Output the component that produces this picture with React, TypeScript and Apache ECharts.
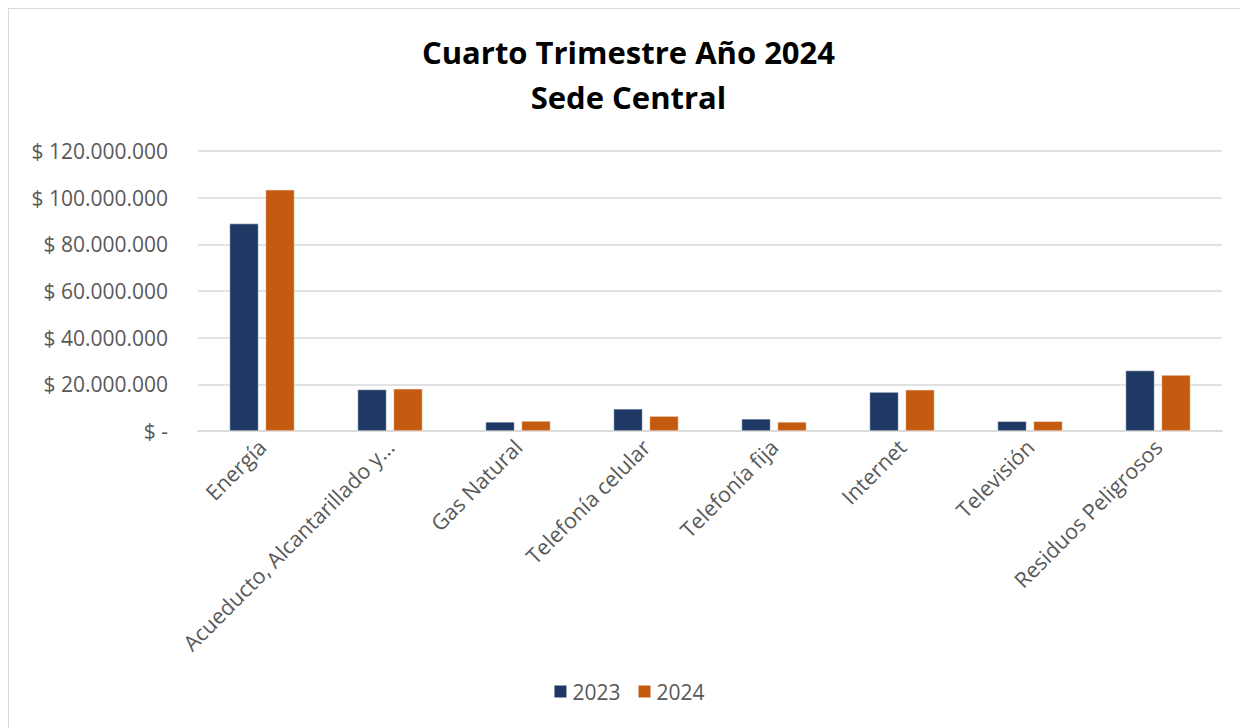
import React, { useEffect, useRef } from "react";
import * as echarts from "echarts";

const categories = [
  "Energía",
  "Acueducto, Alcantarillado y...",
  "Gas Natural",
  "Telefonía celular",
  "Telefonía fija",
  "Internet",
  "Televisión",
  "Residuos Peligrosos",
];
const values2023 = [88900000, 17800000, 3900000, 9500000, 5200000, 16700000, 4200000, 25900000];
const values2024 = [103400000, 18100000, 4300000, 6400000, 3900000, 17700000, 4200000, 24000000];
const seriesNames = ["2023", "2024"];
const titleLines = ["Cuarto Trimestre Año 2024", "Sede Central"];

const FONT = "'Open Sans', 'Noto Sans', sans-serif";

function fmt(v: number): string {
  if (v === 0) return "$ -";
  return "$ " + Math.round(v).toString().replace(/\B(?=(\d{3})+(?!\d))/g, ".");
}

export default function App() {
  const ref = useRef<HTMLDivElement>(null);
  useEffect(() => {
    if (!ref.current) return;
    const chart = echarts.init(ref.current, undefined, { renderer: "svg" });
    chart.setOption({
      animation: false,
      backgroundColor: "#ffffff",
      title: {
        text: titleLines.join("\n"),
        left: "center",
        top: 15,
        textStyle: {
          fontFamily: FONT,
          fontSize: 31,
          fontWeight: "bold",
          color: "#000000",
          lineHeight: 45,
        },
      },
      legend: {
        data: seriesNames,
        bottom: 21,
        left: "center",
        itemWidth: 14,
        itemHeight: 14,
        itemGap: 16,
        icon: "rect",
        textStyle: { fontFamily: FONT, fontSize: 21, color: "#595959" },
      },
      grid: { left: 189, right: 26, top: 142, bottom: 297, containLabel: false },
      xAxis: {
        type: "category",
        data: categories,
        axisLine: { show: true, lineStyle: { color: "#d9d9d9", width: 1.5 } },
        axisTick: { show: false },
        axisLabel: {
          rotate: 45,
          interval: 0,
          margin: 12,
          fontFamily: FONT,
          fontSize: 21.5,
          color: "#595959",
        },
      },
      yAxis: {
        type: "value",
        min: 0,
        max: 120000000,
        interval: 20000000,
        axisLine: { show: false },
        axisTick: { show: false },
        splitLine: { lineStyle: { color: "#d9d9d9", width: 1.5 } },
        axisLabel: {
          formatter: fmt,
          margin: 30,
          fontFamily: FONT,
          fontSize: 21,
          color: "#595959",
        },
      },
      series: [
        {
          name: seriesNames[0],
          type: "bar",
          data: values2023,
          barWidth: 29,
          barGap: "24%",
          itemStyle: { color: "#1f3864", borderColor: "#ffffff", borderWidth: 0.5 },
        },
        {
          name: seriesNames[1],
          type: "bar",
          data: values2024,
          barWidth: 29,
          barGap: "24%",
          itemStyle: { color: "#c55a11", borderColor: "#ffffff", borderWidth: 0.5 },
        },
      ],
    });
    return () => chart.dispose();
  }, []);
  return (
    <div
      style={{
        width: 1239,
        height: 719,
        borderTop: "1px solid #d9d9d9",
        borderLeft: "1px solid #d9d9d9",
        overflow: "hidden",
      }}
    >
      <div ref={ref} style={{ width: 1239, height: 719 }} />
    </div>
  );
}
